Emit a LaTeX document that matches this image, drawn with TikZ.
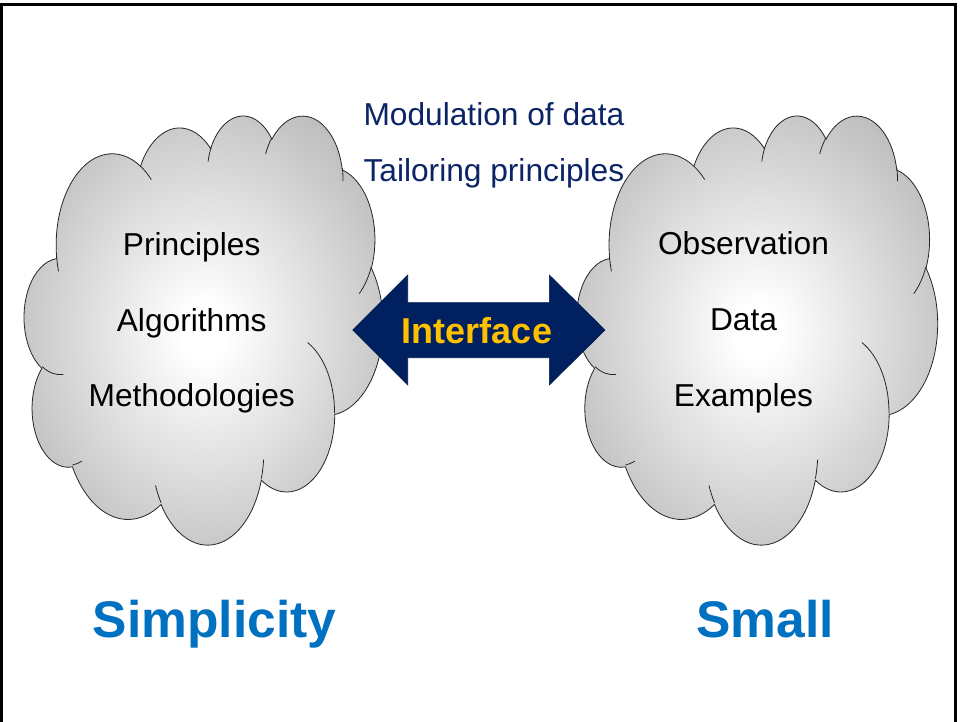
\documentclass[tikz,border=0pt]{standalone}
\usepackage{fontspec}
\setmainfont{Liberation Sans}
\definecolor{navy}{HTML}{002060}
\definecolor{navytext}{HTML}{0A2466}
\definecolor{gold}{HTML}{FFC000}
\definecolor{titleblue}{HTML}{0070C0}
\definecolor{cloudgray}{HTML}{A9A9A9}
\pgfdeclareradialshading{cloudshade}{\pgfpoint{0bp}{0bp}}{color(0bp)=(white); color(3bp)=(white); color(36bp)=(cloudgray); color(75bp)=(cloudgray)}
\tikzset{
  cloudline/.style={draw=black!85, line width=0.8pt},
  cloudtext/.style={inner sep=0pt, anchor=base, font=\fontsize{31.7}{38}\selectfont, text=black},
  toptext/.style={inner sep=0pt, anchor=base west, font=\fontsize{31.7}{38}\selectfont, text=navytext},
  bigtitle/.style={inner sep=0pt, anchor=base, font=\fontsize{51.5}{60}\selectfont\bfseries, text=titleblue},
  arrowshape/.style={fill=navy, draw=navy!80!black, line width=0.6pt, line join=miter},
}
\newcommand\cloudshape{%
  \shadedraw[cloudline, shading=cloudshade] (3.900,14.370)
    arc[start angle=-187.745, end angle=-59.64, x radius=6.753, y radius=9.190]
    arc[start angle=-152.02, end angle=-45.46, x radius=5.333, y radius=7.267]
    arc[start angle=-153.49, end angle=-37.32, x radius=4.365, y radius=5.945]
    arc[start angle=-139.71, end angle=-10.21, x radius=4.857, y radius=6.595]
    arc[start angle=-74.77, end angle=23.21, x radius=5.333, y radius=7.273]
    arc[start angle=-37.52, end angle=81.86, x radius=6.775, y radius=9.220]
    arc[start angle=0.46, end angle=121.97, x radius=5.785, y radius=7.867]
    arc[start angle=16.84, end angle=146.24, x radius=6.752, y radius=9.215]
    arc[start angle=58.98, end angle=150.19, x radius=7.720, y radius=10.543]
    arc[start angle=-276.69, end angle=-136.91, x radius=4.360, y radius=5.918]
    arc[start angle=-239.64, end angle=-95.89, x radius=4.345, y radius=5.945]
    -- cycle;
  \draw[cloudline]
    (4.693,26.177) arc[start angle=85.55, end angle=120.36, x radius=4.345, y radius=5.945]
    (6.928,34.899) arc[start angle=68.23, end angle=83.31, x radius=4.360, y radius=5.918]
    (16.478,39.090) arc[start angle=146.24, end angle=158.47, x radius=6.752, y radius=9.215]
    (28.827,34.751) arc[start angle=4.74, end angle=16.84, x radius=6.752, y radius=9.215]
    (34.129,22.954) arc[start angle=-64.03, end angle=0.46, x radius=5.785, y radius=7.867]
    (41.798,15.354) arc[start angle=23.21, end angle=49.64, x radius=5.333, y radius=7.273]
    (38.324,5.426) arc[start angle=-10.21, end angle=0.82, x radius=4.857, y radius=6.595]
    (29.078,3.952) arc[start angle=-156.29, end angle=-139.71, x radius=4.857, y radius=6.595]
    (22.141,4.720) arc[start angle=-167.73, end angle=-153.49, x radius=4.365, y radius=5.945]
    (14.000,5.192) arc[start angle=-59.64, end angle=-45.73, x radius=6.753, y radius=9.190]
    (4.127,15.789) arc[start angle=163.19, end angle=172.26, x radius=6.753, y radius=9.190];
}
\begin{document}
\begin{tikzpicture}[x=1pt, y=-1pt]
  \useasboundingbox (0,0) rectangle (960,721);
  \clip (0,0) rectangle (960,721);
  \fill[white] (0,0) rectangle (960,721);
  % frame
  \draw[line width=3pt] (1.5,760) -- (1.5,4.5) -- (955.8,4.5) -- (955.8,760);
  % clouds
  \begin{scope}[shift={(24.3,114.6)}, xscale=8.30, yscale=9.93]
    \cloudshape
  \end{scope}
  \begin{scope}[shift={(577.0,114.6)}, xscale=8.346, yscale=9.93]
    \cloudshape
  \end{scope}
  % double arrow
  \coordinate (lt) at (352.7,330);
  \coordinate (rt) at (605,330);
  \path[arrowshape] (lt) -- (407.7,275) -- (407.7,302.7) -- (549.3,302.7) -- (549.3,275)
     -- (rt) -- (549.3,385) -- (549.3,357.7) -- (407.7,357.7) -- (407.7,385) -- cycle;
  \node[inner sep=0pt, anchor=base, font=\fontsize{36}{42}\selectfont\bfseries, text=gold] (iface) at (477,343.3) {Interface};
  % top texts
  \node[toptext] (mod) at (363.3,125) {Modulation of data};
  \node[toptext] (tail) at (363.3,181.7) {Tailoring principles};
  % left cloud texts
  \node[cloudtext] (pri) at (191.7,255) {Principles};
  \node[cloudtext] (alg) at (191.7,331) {Algorithms};
  \node[cloudtext] (met) at (191.7,406.7) {Methodologies};
  % right cloud texts
  \node[cloudtext] (obs) at (743.5,254) {Observation};
  \node[cloudtext] (dat) at (743.5,330.7) {Data};
  \node[cloudtext] (exa) at (743.5,406.7) {Examples};
  % titles
  \node[bigtitle] (simp) at (214.5,637.7) {Simplicity};
  \node[bigtitle] (small) at (765,637.7) {Small};
\end{tikzpicture}
\end{document}
